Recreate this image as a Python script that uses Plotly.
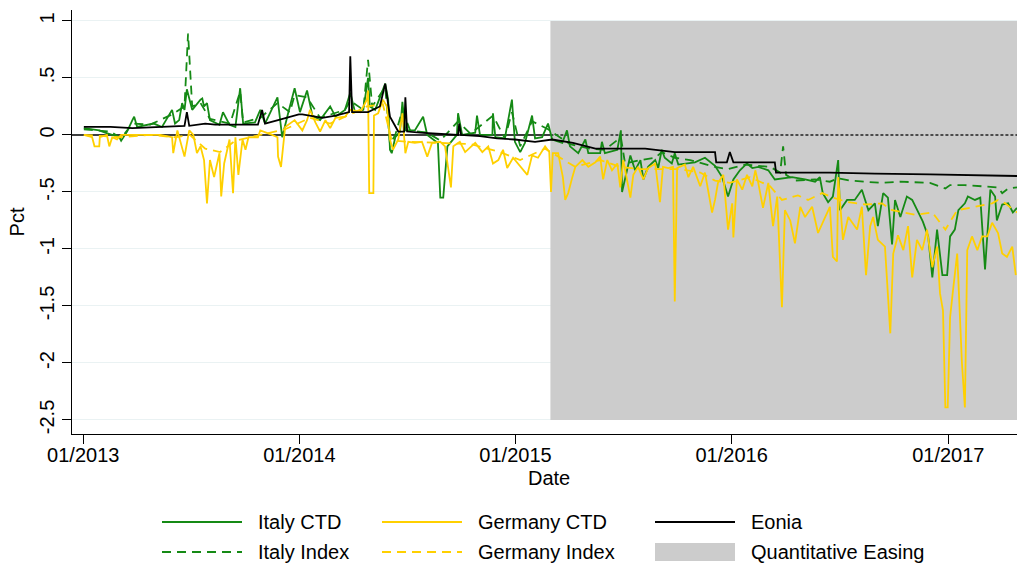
import plotly.graph_objects as go

# ---------------- data ----------------
italy_ctd_dates = [
    "2013-01-02","2013-01-28","2013-02-07","2013-03-03","2013-03-06","2013-03-16","2013-03-25","2013-03-28",
    "2013-04-02","2013-04-22","2013-04-30","2013-05-14","2013-05-23","2013-05-31","2013-06-05","2013-06-12",
    "2013-06-17","2013-06-21","2013-06-25","2013-07-04","2013-07-18","2013-07-21","2013-07-24","2013-07-29",
    "2013-08-03","2013-08-19","2013-08-25","2013-09-05","2013-09-15","2013-09-23","2013-09-28","2013-10-18",
    "2013-10-27","2013-11-04","2013-11-25","2013-11-29","2013-12-03","2013-12-13","2013-12-24","2014-01-02",
    "2014-01-14","2014-01-23","2014-02-05","2014-02-22","2014-03-03","2014-03-19","2014-03-28","2014-04-05",
    "2014-04-19","2014-04-27","2014-04-30","2014-05-09","2014-05-21","2014-05-26","2014-05-31","2014-06-03",
    "2014-06-06","2014-06-12","2014-06-20","2014-06-24","2014-06-29","2014-07-15","2014-07-29","2014-08-05",
    "2014-08-23","2014-08-27","2014-09-01","2014-09-08","2014-09-24","2014-09-26","2014-10-03","2014-10-25",
    "2014-10-28","2014-11-02","2014-11-23","2014-11-24","2014-11-28","2014-12-14","2014-12-26","2014-12-31",
    "2015-01-09","2015-01-17","2015-01-29","2015-02-03","2015-02-15","2015-02-25","2015-03-04","2015-03-21",
    "2015-03-29","2015-04-03","2015-04-17","2015-04-29","2015-05-04","2015-05-24","2015-05-27","2015-06-01",
    "2015-06-22","2015-06-28","2015-06-30","2015-07-09","2015-07-14","2015-07-22","2015-07-31","2015-08-05",
    "2015-08-13","2015-08-25","2015-08-30","2015-09-05","2015-09-10","2015-09-22","2015-09-27","2015-10-03",
    "2015-10-14","2015-10-31","2015-11-17","2015-12-04","2015-12-16","2015-12-26","2016-01-04","2016-01-15",
    "2016-01-27","2016-02-05","2016-02-15","2016-03-03","2016-03-14","2016-03-26","2016-04-12","2016-05-04",
    "2016-05-21","2016-05-29","2016-06-03","2016-06-12","2016-06-20","2016-06-29","2016-07-02","2016-07-14",
    "2016-07-27","2016-08-08","2016-08-19","2016-08-30","2016-09-04","2016-09-13","2016-09-21","2016-09-28",
    "2016-10-03","2016-10-12","2016-10-23","2016-11-01","2016-11-09","2016-11-19","2016-11-28","2016-12-05",
    "2016-12-13","2016-12-22","2016-12-30","2017-01-04","2017-01-12","2017-01-18","2017-01-29","2017-02-03",
    "2017-02-15","2017-02-24","2017-03-04","2017-03-13","2017-03-21","2017-03-24","2017-04-02","2017-04-12",
    "2017-04-20","2017-04-27",
]
italy_ctd = [
    0.06, 0.04, 0.02, -0.02, -0.05, 0.03, 0.13, 0.16,
    0.07, 0.09, 0.10, 0.07, 0.15, 0.22, 0.10, 0.13,
    0.28, 0.22, 0.40, 0.22, 0.31, 0.32, 0.25, 0.28,
    0.13, 0.09, 0.20, 0.09, 0.07, 0.41, 0.10, 0.11,
    0.22, 0.10, 0.33, 0.13, -0.02, 0.19, 0.41, 0.20,
    0.39, 0.17, 0.13, 0.25, 0.16, 0.22, 0.37, 0.20,
    0.22, 0.50, 0.25, 0.22, 0.39, 0.45, 0.31, -0.13,
    -0.16, -0.02, 0.03, 0.29, 0.04, 0.04, 0.16, 0.00,
    -0.07, -0.55, -0.55, -0.10, 0.00, 0.19, 0.00, 0.02,
    0.17, 0.00, 0.00, 0.19, -0.02, -0.03, 0.31, -0.06,
    -0.15, -0.07, 0.17, -0.03, -0.02, 0.10, -0.04, -0.07,
    0.04, -0.10, -0.16, -0.04, -0.16, -0.16, -0.06, -0.16,
    -0.13, 0.04, -0.50, -0.28, -0.18, -0.31, -0.22, -0.39,
    -0.28, -0.22, -0.29, -0.13, -0.20, -0.25, -0.16, -0.26,
    -0.25, -0.24, -0.20, -0.27, -0.37, -0.54, -0.39, -0.31,
    -0.25, -0.29, -0.28, -0.31, -0.39, -0.38, -0.37, -0.39,
    -0.41, -0.37, -0.51, -0.59, -0.54, -0.22, -0.66, -0.57,
    -0.57, -0.48, -0.66, -0.60, -0.80, -0.51, -0.55, -0.96,
    -0.57, -0.72, -0.54, -0.57, -0.66, -0.76, -0.89, -1.25,
    -0.83, -1.23, -1.23, -0.89, -0.83, -0.66, -0.60, -0.54,
    -0.57, -0.55, -1.18, -0.48, -0.54, -0.75, -0.61, -0.60,
    -0.68, -0.64,
]

italy_index_dates = [
    "2013-01-02","2013-02-16","2013-03-06","2013-03-25","2013-04-24","2013-05-31","2013-06-21","2013-06-27",
    "2013-07-04","2013-07-18","2013-08-03","2013-09-06","2013-09-23","2013-09-28","2013-10-27","2013-11-25",
    "2013-12-16","2013-12-24","2014-01-14","2014-02-05","2014-03-19","2014-03-28","2014-04-19","2014-04-27",
    "2014-05-04","2014-05-26","2014-06-03","2014-06-12","2014-06-24","2014-07-07","2014-08-05","2014-08-27",
    "2014-09-26","2014-10-17","2014-11-24","2014-12-14","2014-12-26","2015-01-09","2015-01-29","2015-02-25",
    "2015-04-03","2015-05-07","2015-06-01","2015-06-28","2015-07-05","2015-07-31","2015-08-25","2015-09-05",
    "2015-09-27","2015-10-23","2015-12-04","2015-12-26","2016-01-24","2016-03-06","2016-03-23","2016-03-28",
    "2016-04-02","2016-04-17","2016-05-21","2016-06-15","2016-06-29","2016-07-19","2016-08-14","2016-09-08",
    "2016-10-12","2016-12-01","2016-12-27","2017-01-04","2017-01-29","2017-03-04","2017-03-26","2017-04-02",
    "2017-04-12","2017-04-27",
]
italy_index = [
    0.05, 0.03, -0.03, 0.10, 0.09, 0.18, 0.25, 0.89,
    0.25, 0.28, 0.14, 0.10, 0.38, 0.11, 0.15, 0.28,
    0.20, 0.35, 0.33, 0.15, 0.22, 0.30, 0.22, 0.66,
    0.25, 0.42, -0.08, 0.00, 0.22, 0.04, 0.02, -0.05,
    0.12, 0.01, 0.17, -0.03, 0.20, -0.10, 0.12, 0.05,
    -0.08, -0.12, -0.13, -0.02, -0.25, -0.22, -0.20, -0.15,
    -0.20, -0.22, -0.28, -0.30, -0.26, -0.28, -0.33, -0.10,
    -0.35, -0.40, -0.39, -0.41, -0.38, -0.40, -0.41, -0.42,
    -0.41, -0.42, -0.47, -0.44, -0.44, -0.45, -0.46, -0.51,
    -0.47, -0.46,
]

germany_ctd_dates = [
    "2013-01-02","2013-01-16","2013-01-20","2013-01-28","2013-01-29","2013-02-10","2013-02-14","2013-02-19",
    "2013-02-27","2013-03-06","2013-04-05","2013-05-11","2013-05-31","2013-06-02","2013-06-09","2013-06-21",
    "2013-06-29","2013-07-06","2013-07-12","2013-07-18","2013-07-24","2013-07-29","2013-08-03","2013-08-10",
    "2013-08-19","2013-08-22","2013-08-27","2013-09-05","2013-09-11","2013-09-15","2013-09-20","2013-09-27",
    "2013-10-02","2013-10-07","2013-10-23","2013-10-27","2013-11-16","2013-11-25","2013-11-26","2013-12-01",
    "2013-12-08","2013-12-24","2014-01-06","2014-01-14","2014-01-19","2014-01-28","2014-02-05","2014-02-14",
    "2014-02-22","2014-03-03","2014-03-19","2014-03-28","2014-04-14","2014-04-25","2014-04-27","2014-04-29",
    "2014-05-06","2014-05-07","2014-05-14","2014-05-22","2014-05-29","2014-06-03","2014-06-08","2014-06-17",
    "2014-06-24","2014-06-29","2014-07-04","2014-07-15","2014-07-27","2014-08-05","2014-08-13","2014-08-27",
    "2014-09-04","2014-09-08","2014-09-14","2014-09-18","2014-09-29","2014-10-08","2014-10-25","2014-11-06",
    "2014-11-16","2014-11-24","2014-12-03","2014-12-11","2014-12-18","2014-12-28","2015-01-09","2015-01-21",
    "2015-01-29","2015-02-08","2015-02-20","2015-02-27","2015-03-02","2015-03-05","2015-03-14","2015-03-22",
    "2015-03-26","2015-03-31","2015-04-07","2015-04-12","2015-04-24","2015-05-04","2015-05-16","2015-05-24",
    "2015-05-29","2015-06-05","2015-06-13","2015-06-22","2015-06-27","2015-07-02","2015-07-14","2015-07-19",
    "2015-07-27","2015-08-05","2015-08-13","2015-08-25","2015-09-02","2015-09-07","2015-09-16","2015-09-24",
    "2015-09-27","2015-10-01","2015-10-14","2015-10-20","2015-10-28","2015-11-09","2015-11-17","2015-11-29",
    "2015-12-04","2015-12-09","2015-12-18","2015-12-26","2016-01-02","2016-01-04","2016-01-10","2016-01-19",
    "2016-01-27","2016-02-05","2016-02-10","2016-02-15","2016-02-23","2016-03-03","2016-03-11","2016-03-18",
    "2016-03-26","2016-03-31","2016-04-09","2016-04-17","2016-04-26","2016-05-04","2016-05-16","2016-05-26",
    "2016-06-07","2016-06-15","2016-06-20","2016-06-27","2016-06-29","2016-07-07","2016-07-16","2016-07-31",
    "2016-08-08","2016-08-15","2016-08-22","2016-08-27","2016-09-04","2016-09-16","2016-09-25","2016-09-30",
    "2016-10-08","2016-10-17","2016-10-25","2016-11-01","2016-11-09","2016-11-18","2016-11-26","2016-12-05",
    "2016-12-13","2016-12-18","2016-12-23","2016-12-27","2016-12-31","2017-01-04","2017-01-09","2017-01-16",
    "2017-01-24","2017-01-29","2017-02-02","2017-02-10","2017-02-19","2017-02-27","2017-03-08","2017-03-16",
    "2017-03-26","2017-04-02","2017-04-10","2017-04-19","2017-04-25",
]
germany_ctd = [
    0.00, -0.02, -0.10, -0.10, -0.02, 0.00, -0.10, -0.02,
    -0.04, 0.00, 0.00, 0.00, -0.02, -0.16, 0.04, -0.19,
    0.04, 0.00, -0.16, -0.10, -0.22, -0.60, -0.22, -0.37,
    -0.16, -0.54, -0.25, -0.04, -0.51, -0.02, -0.35, -0.04,
    -0.13, -0.02, -0.02, 0.04, 0.00, -0.02, -0.19, -0.28,
    0.07, 0.13, 0.04, 0.13, 0.22, 0.11, 0.03, 0.13,
    0.06, 0.15, 0.16, 0.22, 0.20, 0.31, 0.39, -0.51,
    -0.51, 0.17, 0.19, 0.31, 0.25, -0.04, -0.13, -0.04,
    0.19, -0.16, -0.06, -0.07, -0.06, -0.19, -0.07, -0.06,
    -0.10, -0.25, -0.46, -0.10, -0.06, -0.15, -0.07, -0.15,
    -0.10, -0.25, -0.22, -0.13, -0.29, -0.20, -0.28, -0.35,
    -0.18, -0.20, -0.10, -0.15, -0.50, -0.16, -0.16, -0.37,
    -0.57, -0.51, -0.37, -0.28, -0.22, -0.28, -0.24, -0.19,
    -0.39, -0.22, -0.31, -0.25, -0.46, -0.22, -0.55, -0.35,
    -0.28, -0.39, -0.29, -0.25, -0.59, -0.28, -0.29, -0.28,
    -1.46, -0.29, -0.26, -0.37, -0.28, -0.45, -0.33, -0.68,
    -0.57, -0.42, -0.35, -0.83, -0.60, -0.90, -0.39, -0.48,
    -0.35, -0.45, -0.31, -0.42, -0.64, -0.42, -0.80, -0.54,
    -1.51, -0.66, -0.75, -0.95, -0.63, -0.72, -0.63, -0.86,
    -0.72, -0.63, -1.07, -1.11, -0.37, -0.92, -0.72, -0.83,
    -0.63, -1.23, -0.80, -0.72, -0.92, -0.98, -1.74, -1.04,
    -0.88, -1.01, -0.80, -1.25, -0.92, -1.01, -0.83, -1.16,
    -0.98, -1.39, -1.54, -2.39, -2.39, -1.60, -1.36, -1.04,
    -2.00, -2.39, -1.01, -0.89, -1.01, -0.89, -0.89, -0.77,
    -0.86, -1.04, -1.07, -0.98, -1.23,
]

germany_index_dates = [
    "2013-01-02","2013-03-04","2013-04-24","2013-06-05","2013-06-30","2013-07-26","2013-08-20","2013-09-15",
    "2013-10-27","2013-12-08","2014-01-19","2014-02-22","2014-03-28","2014-04-25","2014-05-22","2014-06-06",
    "2014-07-07","2014-08-27","2014-10-17","2014-12-06","2015-01-09","2015-02-20","2015-03-17","2015-04-12",
    "2015-05-24","2015-06-27","2015-07-31","2015-09-02","2015-10-06","2015-11-09","2015-12-04","2015-12-29",
    "2016-02-01","2016-03-06","2016-03-26","2016-04-22","2016-05-09","2016-06-02","2016-06-20","2016-07-16",
    "2016-08-14","2016-09-11","2016-09-28","2016-11-06","2016-12-05","2016-12-27","2017-01-16","2017-02-15",
    "2017-03-16","2017-03-26","2017-04-07","2017-04-27",
]
germany_index = [
    0.00, -0.02, 0.00, -0.02, 0.00, -0.12, -0.15, -0.05,
    0.00, 0.05, 0.15, 0.10, 0.18, 0.25, 0.27, -0.05,
    -0.06, -0.07, -0.08, -0.15, -0.22, -0.12, -0.20, -0.28,
    -0.22, -0.28, -0.30, -0.30, -0.30, -0.33, -0.40, -0.42,
    -0.37, -0.45, -0.57, -0.53, -0.57, -0.51, -0.55, -0.59,
    -0.61, -0.60, -0.66, -0.70, -0.68, -0.83, -0.66, -0.63,
    -0.60, -0.57, -0.60, -0.68,
]

eonia_dates = [
    "2013-01-02","2013-02-16","2013-03-25","2013-05-09","2013-06-21","2013-06-25","2013-06-29","2013-07-26",
    "2013-08-12","2013-09-21","2013-10-23","2013-10-30","2013-11-04","2013-11-26","2013-12-31","2014-01-06",
    "2014-02-09","2014-03-03","2014-03-26","2014-03-28","2014-03-31","2014-04-27","2014-05-17","2014-05-26",
    "2014-06-03","2014-06-17","2014-06-27","2014-06-29","2014-07-02","2014-07-24","2014-08-27","2014-09-26",
    "2014-09-28","2014-10-01","2014-11-02","2014-12-01","2014-12-31","2015-02-03","2015-03-04","2015-04-08",
    "2015-05-16","2015-08-08","2015-09-27","2015-12-04","2015-12-06","2015-12-24","2015-12-29","2016-01-04",
    "2016-03-14","2016-03-16","2016-06-15","2016-08-30","2016-12-01","2017-04-27",
]
eonia = [
    0.07, 0.07, 0.06, 0.07, 0.08, 0.20, 0.08, 0.10,
    0.09, 0.09, 0.09, 0.22, 0.10, 0.13, 0.18, 0.18,
    0.15, 0.17, 0.20, 0.69, 0.20, 0.20, 0.25, 0.45,
    0.16, 0.03, 0.03, 0.33, 0.03, 0.02, 0.01, 0.00,
    0.10, 0.00, -0.01, -0.03, -0.04, -0.06, -0.04, -0.07,
    -0.12, -0.12, -0.15, -0.15, -0.24, -0.24, -0.15, -0.24,
    -0.24, -0.33, -0.33, -0.34, -0.345, -0.36,
]

qe_dates = ["2015-03-01", "2017-04-27"]
qe_bounds = [1.0, -2.5]

x_range = ["2012-12-13", "2017-04-27"]
y_range = [-2.623, 1.096]
x_tick_vals = ["2013-01-01", "2014-01-01", "2015-01-01", "2016-01-01", "2017-01-01"]
x_tick_text = ["01/2013", "01/2014", "01/2015", "01/2016", "01/2017"]
y_tick_vals = [1, 0.5, 0, -0.5, -1, -1.5, -2, -2.5]
y_tick_text = ["1", ".5", "0", "-.5", "-1", "-1.5", "-2", "-2.5"]

legend_labels = ["Italy CTD", "Germany CTD", "Eonia", "Italy Index", "Germany Index", "Quantitative Easing"]

# ---------------- styling ----------------
GREEN = "#158a15"
GOLD = "#FFD000"
QE_GREY = "#CCCCCC"
FONT = "Liberation Sans, Arial, sans-serif"
DASH = "9px,6px"
W, H = 1019, 565
ML, MR, MT, MB = 72, 2, 10, 131

fig = go.Figure()

# QE shaded region (drawn from the data scale)
fig.add_trace(go.Scatter(
    x=[qe_dates[0], qe_dates[1], qe_dates[1], qe_dates[0], qe_dates[0]],
    y=[qe_bounds[0], qe_bounds[0], qe_bounds[1], qe_bounds[1], qe_bounds[0]],
    fill="toself", fillcolor=QE_GREY, line=dict(width=0), mode="lines",
    hoverinfo="skip", showlegend=False))

# zero reference line: solid before QE, dotted within QE region
fig.add_trace(go.Scatter(x=[x_range[0], qe_dates[0]], y=[0, 0], mode="lines",
                         line=dict(color="black", width=1.4), hoverinfo="skip", showlegend=False))
fig.add_trace(go.Scatter(x=[qe_dates[0], qe_dates[1]], y=[0, 0], mode="lines",
                         line=dict(color="#222222", width=1.4, dash="3px,2px"), hoverinfo="skip", showlegend=False))

LW = 1.8
fig.add_trace(go.Scatter(x=italy_ctd_dates, y=italy_ctd, mode="lines", name="Italy CTD",
                         line=dict(color=GREEN, width=LW), showlegend=False))
fig.add_trace(go.Scatter(x=italy_index_dates, y=italy_index, mode="lines", name="Italy Index",
                         line=dict(color=GREEN, width=LW, dash=DASH), showlegend=False))
fig.add_trace(go.Scatter(x=germany_ctd_dates, y=germany_ctd, mode="lines", name="Germany CTD",
                         line=dict(color=GOLD, width=LW), showlegend=False))
fig.add_trace(go.Scatter(x=germany_index_dates, y=germany_index, mode="lines", name="Germany Index",
                         line=dict(color=GOLD, width=LW, dash=DASH), showlegend=False))
fig.add_trace(go.Scatter(x=eonia_dates, y=eonia, mode="lines", name="Eonia",
                         line=dict(color="black", width=LW), showlegend=False))

# ---------------- manual legend (Stata style, two rows) ----------------
pw = W - ML - MR
ph = H - MT - MB


def px_x(x):
    return (x - ML) / pw


def px_y(y):
    return (H - MB - y) / ph


shapes = []
annotations = []
legend_items = [
    (legend_labels[0], 162, 522, GREEN, "solid"),
    (legend_labels[1], 382, 522, GOLD, "solid"),
    (legend_labels[2], 655, 522, "black", "solid"),
    (legend_labels[3], 162, 552, GREEN, "dash"),
    (legend_labels[4], 382, 552, GOLD, "dash"),
]
for label, x0, y0, col, dash in legend_items:
    shapes.append(dict(type="line", xref="paper", yref="paper",
                       x0=px_x(x0), x1=px_x(x0 + 80), y0=px_y(y0), y1=px_y(y0),
                       line=dict(color=col, width=1.8, dash=(DASH if dash == "dash" else "solid"))))
    annotations.append(dict(xref="paper", yref="paper", x=px_x(x0 + 94), y=px_y(y0),
                            text=label, showarrow=False, xanchor="left", yanchor="middle",
                            font=dict(family=FONT, size=20, color="black")))
shapes.append(dict(type="rect", xref="paper", yref="paper",
                   x0=px_x(655), x1=px_x(735), y0=px_y(561), y1=px_y(543),
                   fillcolor=QE_GREY, line=dict(width=0)))
annotations.append(dict(xref="paper", yref="paper", x=px_x(749), y=px_y(552),
                        text=legend_labels[5], showarrow=False, xanchor="left", yanchor="middle",
                        font=dict(family=FONT, size=20, color="black")))
# x-axis title placed like the reference
annotations.append(dict(xref="paper", yref="paper", x=px_x(549), y=px_y(478),
                        text="Date", showarrow=False, xanchor="center", yanchor="middle",
                        font=dict(family=FONT, size=20, color="black")))

fig.update_layout(
    width=W, height=H,
    margin=dict(l=ML, r=MR, t=MT, b=MB, autoexpand=False),
    paper_bgcolor="white", plot_bgcolor="white",
    font=dict(family=FONT, size=20, color="black"),
    showlegend=False,
    shapes=shapes,
    annotations=annotations,
    xaxis=dict(
        range=x_range, type="date", automargin=False,
        tickmode="array", tickvals=x_tick_vals, ticktext=x_tick_text,
        ticks="outside", ticklen=9, tickwidth=1, tickcolor="black",
        ticklabelstandoff=-6,
        showline=True, linecolor="black", linewidth=1,
        showgrid=False, zeroline=False,
        tickfont=dict(size=20),
    ),
    yaxis=dict(
        range=y_range, automargin=False,
        tickmode="array", tickvals=y_tick_vals, ticktext=y_tick_text,
        tickangle=-90,
        ticks="outside", ticklen=9, tickwidth=1, tickcolor="black",
        showline=True, linecolor="black", linewidth=1,
        showgrid=True, gridcolor="#EAF2F3", gridwidth=1,
        zeroline=False,
        title=dict(text="Pct", standoff=6, font=dict(size=20)),
        tickfont=dict(size=20),
    ),
)

fig.write_html("out.html", config={"displayModeBar": False},
               post_script="document.body.style.margin='0';document.body.style.overflow='hidden';")
